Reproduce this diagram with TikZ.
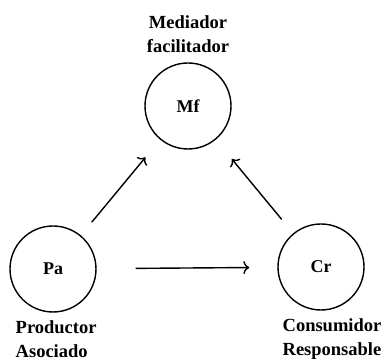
\documentclass[tikz,border=0pt]{standalone}
\usepackage{fontspec}
\setmainfont{Liberation Serif}
\usetikzlibrary{positioning,arrows.meta}

\begin{document}
\begin{tikzpicture}[x=1pt, y=1pt, >={To[length=6pt,width=13pt]}, line width=1.4pt,
                    main node/.style={circle,draw,minimum size=86pt,inner sep=0pt,font=\fontsize{18}{20}\selectfont\bfseries},
                    tag/.style={inner sep=0pt,font=\fontsize{18.5}{24}\selectfont\bfseries}]
  \useasboundingbox (0,0) rectangle (386,361);

  \node[main node] (mf) at (188,255) {Mf};
  \node[main node] (pa) at (53,92) {Pa};
  \node[main node] (cr) at (321,94) {Cr};

  \node[tag, align=center] (mf text) at (188,327) {Mediador\\facilitador};
  \node[tag, align=left, anchor=west] (pa text) at (15,22) {Productor\\Asociado};
  \node[tag, align=center] (cr text) at (332,22) {Consumidor\\Responsable};

  \path[->]
    (pa) edge [shorten <=17pt, shorten >=23pt] (mf)
    (cr) edge [shorten <=18pt, shorten >=25pt] (mf)
    (pa) edge [shorten <=39pt, shorten >=28pt] (cr);
\end{tikzpicture}
\end{document}
